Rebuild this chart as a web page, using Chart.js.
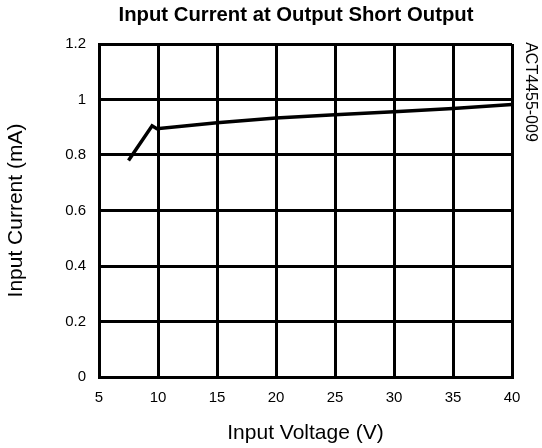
<!DOCTYPE html>
<html>
<head>
<meta charset="utf-8">
<script src="https://cdn.jsdelivr.net/npm/chart.js@4/dist/chart.umd.min.js"></script>
<style>
html,body{margin:0;padding:0;background:#fff;}
#wrap{width:542px;height:448px;position:relative;}
</style>
</head>
<body>
<div id="wrap"><canvas id="c" width="542" height="448"></canvas></div>
<script>
const chartTitle = "Input Current at Output Short Output";
const sideLabel = "ACT4455-009";
const xTitle = "Input Voltage (V)";
const yTitle = "Input Current (mA)";
const voltage = [7.5, 9.5, 9.9, 15, 20, 25, 30, 35, 40];
const current = [0.78, 0.905, 0.895, 0.916, 0.933, 0.945, 0.956, 0.968, 0.982];
const xTicks = [5, 10, 15, 20, 25, 30, 35, 40];
const yTicks = [0, 0.2, 0.4, 0.6, 0.8, 1, 1.2];

const FONT = "'Liberation Sans', Arial, sans-serif";

const textPlugin = {
  id: 'texts',
  afterDraw(chart) {
    const ctx = chart.ctx;
    ctx.save();
    ctx.fillStyle = '#000';
    ctx.font = "bold 20.3px " + FONT;
    ctx.textAlign = 'center';
    ctx.textBaseline = 'middle';
    ctx.fillText(chartTitle, 296, 15);
    ctx.translate(530, 92);
    ctx.rotate(Math.PI / 2);
    ctx.font = "16px " + FONT;
    ctx.fillText(sideLabel, 0, 0);
    ctx.restore();
  }
};

new Chart(document.getElementById('c'), {
  type: 'line',
  data: {
    datasets: [{
      data: voltage.map((v, i) => ({x: v, y: current[i]})),
      borderColor: '#000',
      borderWidth: 3.5,
      pointRadius: 0,
      tension: 0,
      fill: false
    }]
  },
  plugins: [textPlugin],
  options: {
    responsive: false,
    animation: false,
    devicePixelRatio: 1,
    layout: {padding: {left: 0, top: 44, right: 30, bottom: 0}},
    plugins: {legend: {display: false}, tooltip: {enabled: false}, title: {display: false}},
    scales: {
      x: {
        type: 'linear',
        min: 5, max: 40,
        afterBuildTicks(s) { s.ticks = xTicks.map(v => ({value: v})); },
        afterFit(s) { s.height = 71; },
        grid: {color: '#000', lineWidth: 3, drawTicks: false},
        border: {color: '#000', width: 3},
        ticks: {color: '#000', font: {family: FONT, size: 15}, padding: 12, maxRotation: 0, autoSkip: false},
        title: {display: true, text: xTitle, color: '#000', font: {family: FONT, size: 21}, padding: {top: 0, bottom: 2}}
      },
      y: {
        type: 'linear',
        min: 0, max: 1.2,
        afterBuildTicks(s) { s.ticks = yTicks.map(v => ({value: v})); },
        afterFit(s) { s.width = 99; },
        grid: {color: '#000', lineWidth: 3, drawTicks: false},
        border: {color: '#000', width: 3},
        ticks: {color: '#000', font: {family: FONT, size: 15}, padding: 13, autoSkip: false,
          callback: v => String(Math.round(v * 10) / 10)},
        title: {display: true, text: yTitle, color: '#000', font: {family: FONT, size: 21}, padding: {top: 4, bottom: 0}}
      }
    }
  }
});
</script>
</body>
</html>
